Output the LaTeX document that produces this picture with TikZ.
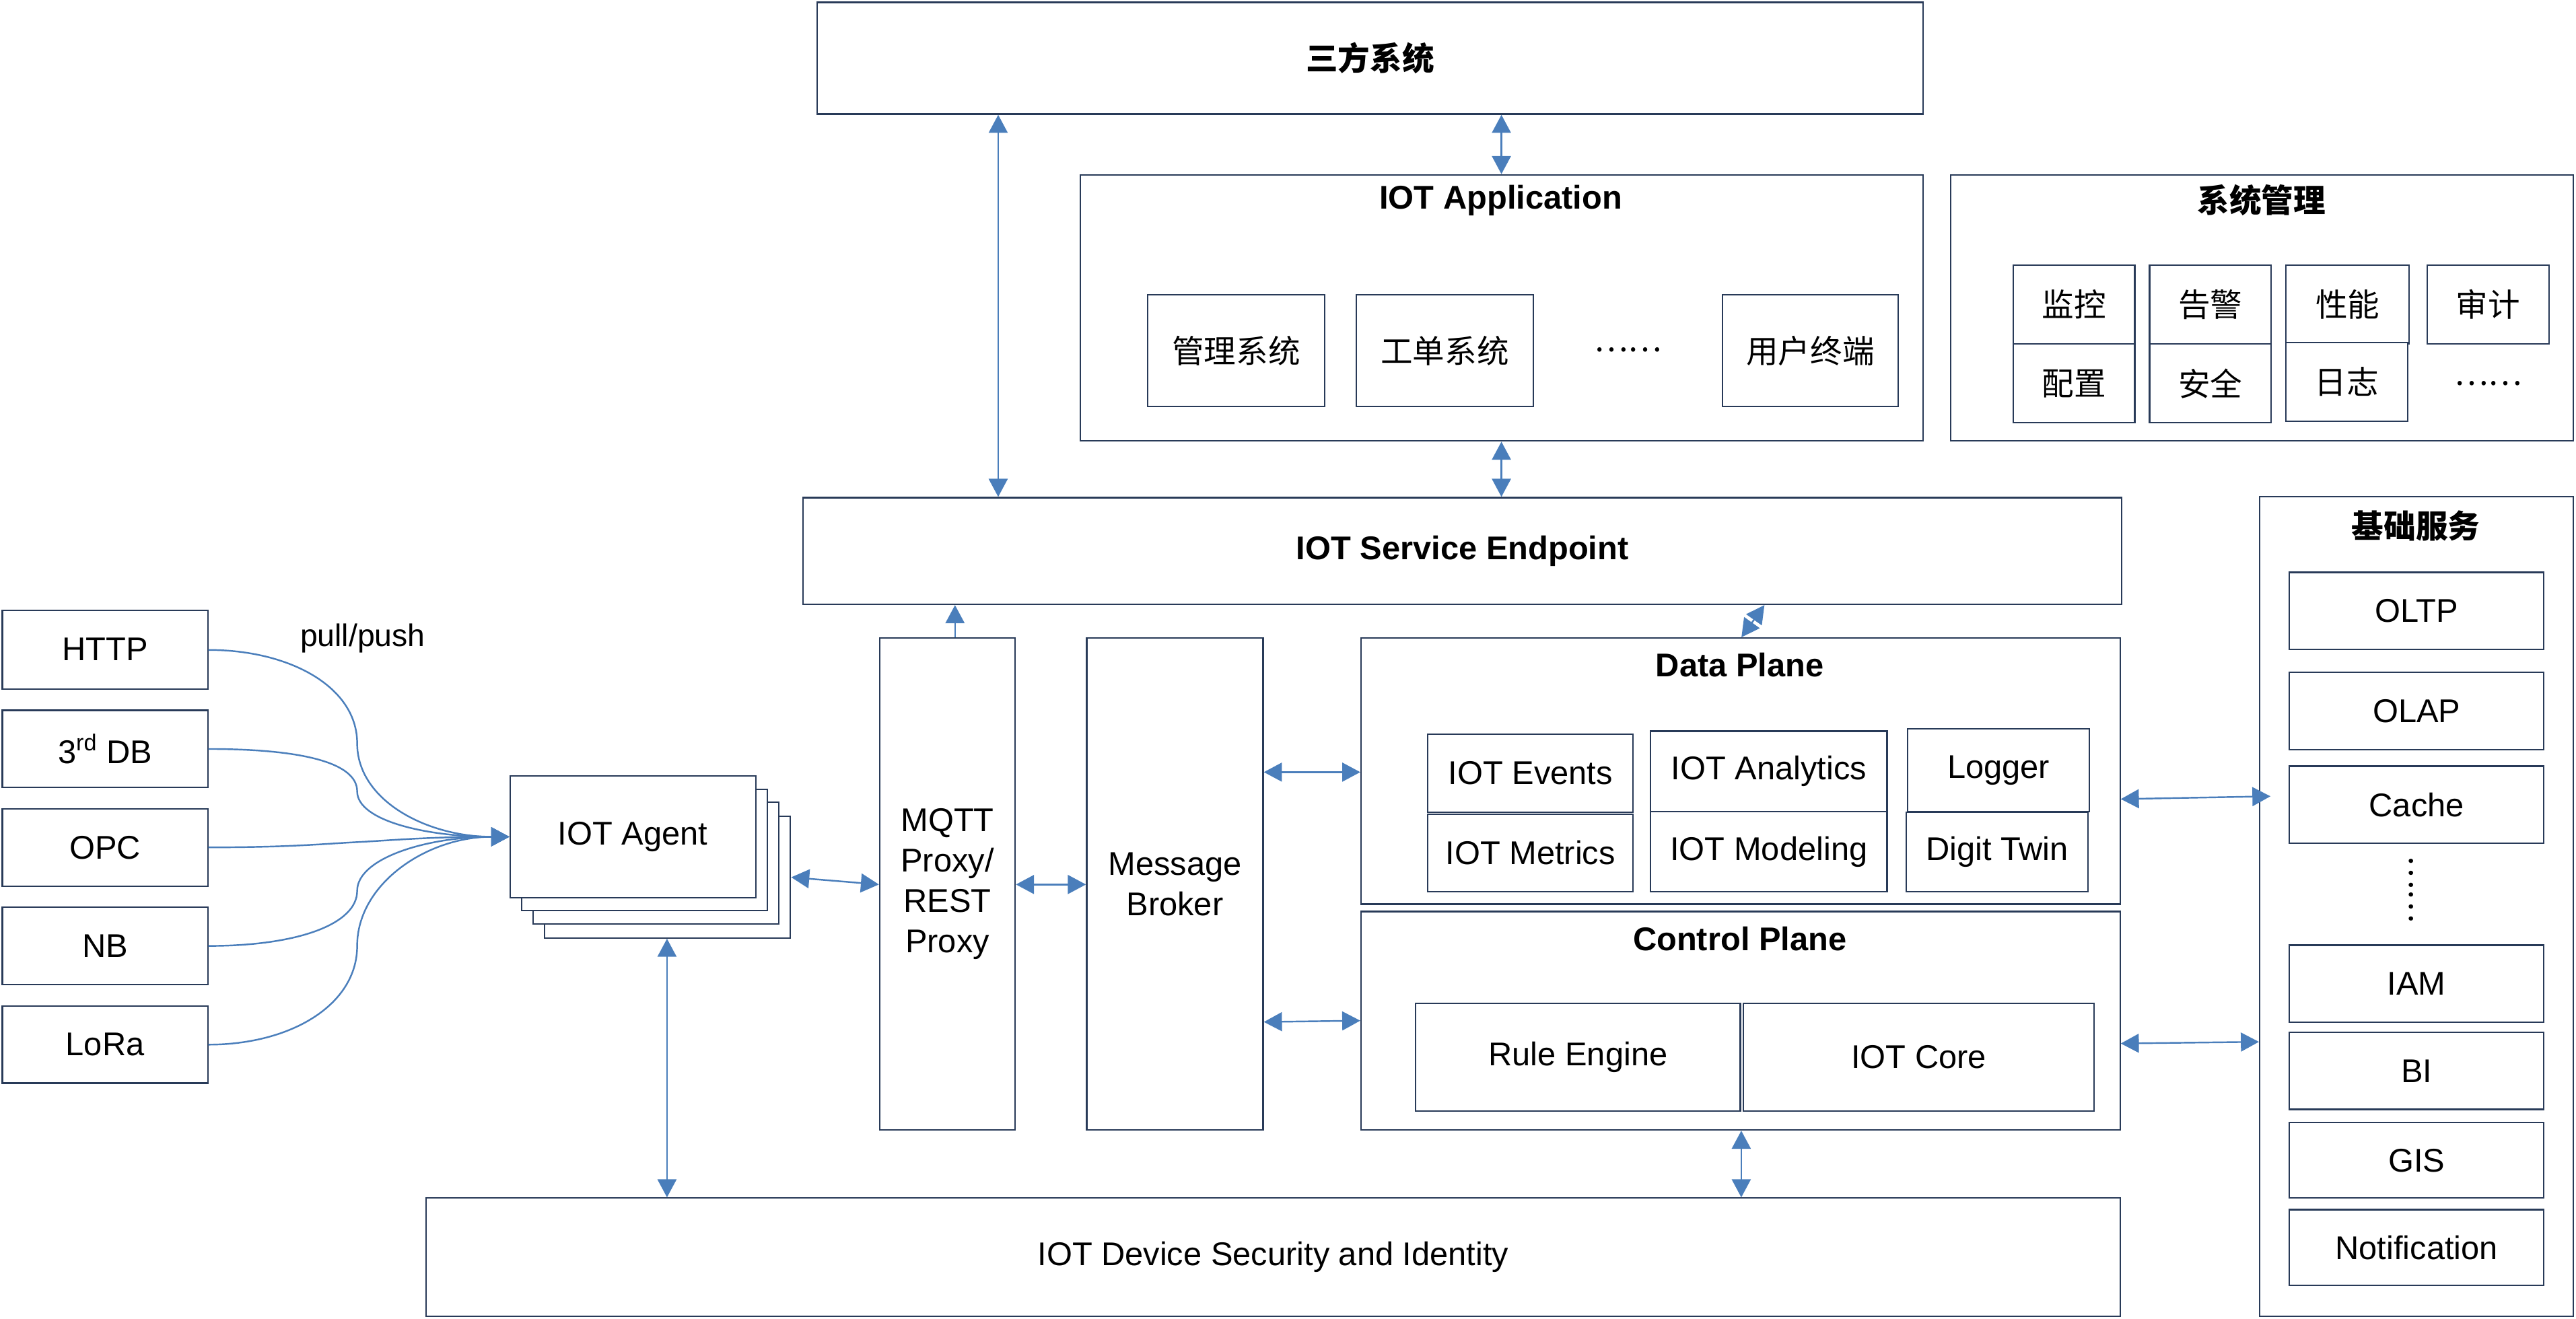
\documentclass[tikz,border=0pt]{standalone}
\usepackage{fontspec}
\setmainfont{Liberation Sans}
\newfontfamily\cjk[Scale=0.975]{Noto Sans CJK SC}
\usetikzlibrary{arrows.meta,calc}
\definecolor{edge}{RGB}{40,58,88}
\definecolor{arr}{RGB}{74,126,187}
\newcommand\bx[6][]{\node[box,anchor=north west,minimum width={(#4-#2)*1pt},minimum height={(#5-#3)*1pt},#1] (#6) at (#2,#3)}
\begin{document}
\begin{tikzpicture}[x=1pt,y=-1pt,
  box/.style={draw=edge,line width=0.9pt,fill=white,inner sep=0pt,align=center,font=\fontsize{20}{24.5}\selectfont},
  ttl/.style={inner sep=0pt,font=\fontsize{20}{24}\selectfont\bfseries},
  txt/.style={inner sep=0pt,font=\fontsize{20}{24}\selectfont},
  con/.style={draw=arr,line width=1pt,{Triangle[length=11pt,width=11.5pt]}-{Triangle[length=11pt,width=11.5pt]}},
  one/.style={draw=arr,line width=1pt,-{Triangle[length=11pt,width=11.5pt]}},
]
\useasboundingbox (0,0) rectangle (1568,803);

% top row
\bx{497}{1}{1170}{69}{top} {\cjk\bfseries 三方系统};
\bx{657}{106}{1170}{268}{app} {};
\node[ttl] (apptitle) at (913.5,122) {IOT Application};
\bx{698}{179}{806}{247}{mgmt} {\cjk 管理系统};
\bx{825}{179}{933}{247}{gd} {\cjk 工单系统};
\node[txt] (appdots) at (991,213) {\cjk ……};
\bx{1048}{179}{1155}{247}{user} {\cjk 用户终端};

\bx{1187}{106}{1566}{268}{sys} {};
\node[ttl] (systitle) at (1376.5,122) {\cjk 系统管理};
\bx{1225}{161}{1299}{209}{jk} {\cjk 监控};
\bx{1308}{161}{1382}{209}{gj} {\cjk 告警};
\bx{1391}{161}{1466}{209}{xn} {\cjk 性能};
\bx{1477}{161}{1551}{209}{sj} {\cjk 审计};
\bx{1225}{209}{1299}{257}{pz} {\cjk 配置};
\bx{1308}{209}{1382}{257}{aq} {\cjk 安全};
\bx{1391}{208}{1465}{256}{rz} {\cjk 日志};
\node[txt] (sysdots) at (1514.5,233.5) {\cjk ……};

% service endpoint
\bx{488.5}{302.5}{1291}{367.5}{sep} {\bfseries IOT Service Endpoint};

% base services
\bx{1375}{302}{1566}{801}{base} {};
\node[ttl] (basetitle) at (1470.5,320) {\cjk 基础服务};
\bx{1393}{348}{1548}{395}{oltp} {OLTP};
\bx{1393}{409}{1548}{456}{olap} {OLAP};
\bx{1393}{466}{1548}{513}{cache} {Cache};
\node[txt,rotate=-90] (vdots) at (1467.5,541.5) {\cjk ……};
\bx{1393}{575}{1548}{622}{iam} {IAM};
\bx{1393}{628}{1548}{675}{bi} {BI};
\bx{1393}{683}{1548}{729}{gis} {GIS};
\bx{1393}{736}{1548}{782}{notif} {Notification};

% left sources
\bx{1}{371}{126}{419}{http} {HTTP};
\bx{1}{432}{126}{479}{db} {3\textsuperscript{rd} DB};
\bx{1}{492}{126}{539}{opc} {OPC};
\bx{1}{552}{126}{599}{nb} {NB};
\bx{1}{612}{126}{659}{lora} {LoRa};
\node[txt,font=\fontsize{19}{24}\selectfont] (pp) at (220.8,388.8) {pull/push};

% agent stack
\bx{331}{496.5}{480.7}{570.6}{ag3} {};
\bx{324}{488}{473.6}{562}{ag2} {};
\bx{317}{480}{466.5}{554}{ag1} {};
\bx{310}{472}{459.5}{546}{agent} {IOT Agent};

% middle
\bx{535}{388}{617.5}{687.5}{mqtt} {MQTT\\Proxy/\\REST\\Proxy};
\bx{661}{388}{768.4}{687.5}{broker} {Message\\Broker};

\bx{828}{388}{1290}{550}{dp} {};
\node[ttl] (dptitle) at (1059,405) {Data Plane};
\bx{868.7}{446.6}{993.5}{494.1}{ev} {IOT Events};
\bx{868.7}{495.2}{993.5}{542.4}{me} {IOT Metrics};
\bx{1004.3}{444.7}{1148.2}{493.6}{an} {IOT Analytics};
\bx{1004.3}{493.6}{1148.2}{542.4}{mo} {IOT Modeling};
\bx{1160.6}{443.2}{1271.4}{493.6}{lg} {Logger};
\bx{1160}{494}{1270.5}{542.4}{dt} {Digit Twin};

\bx{828}{554.5}{1290}{687.5}{cp} {};
\node[ttl] (cptitle) at (1059,571.5) {Control Plane};
\bx{861.3}{610.4}{1058.9}{676}{re} {Rule Engine};
\bx{1060.8}{610.4}{1274.3}{676}{core} {IOT Core};

\bx{259}{729}{1290}{801}{sec} {IOT Device Security and Identity};

% connectors
\draw[con] (607.6,0 |- top.south) -- (607.6,0 |- sep.north);
\draw[con] (913.9,0 |- top.south) -- (913.9,0 |- app.north);
\draw[con] (913.9,0 |- app.south) -- (913.9,0 |- sep.north);
\draw[one] (581.3,0 |- mqtt.north) -- (581.3,0 |- sep.south);
\draw[con] (1074,0 |- sep.south) -- (1060,0 |- dp.north);
\draw[con] (ag3.east |- 0,534.1) -- (mqtt.west |- 0,538.5);
\draw[con] (mqtt.east |- 0,538.5) -- (broker.west |- 0,538.5);
\draw[con] (broker.east |- 0,470.1) -- (dp.west |- 0,470.1);
\draw[con] (broker.east |- 0,622.2) -- (cp.west |- 0,621.4);
\draw[con] (dp.east |- 0,486.5) -- ($(base.west |- 0,484.8)+(7,0)$);
\draw[con] (cp.east |- 0,635.3) -- (base.west |- 0,634.3);
\draw[con] (406,0 |- ag3.south) -- (406,0 |- sec.north);
\draw[con] (1059.9,0 |- cp.south) -- (1059.9,0 |- sec.north);

% curved source links
\coordinate (m1) at (217.4,452.5);
\coordinate (m2) at (217.4,481.8);
\coordinate (m3) at (217.4,512.7);
\coordinate (m4) at (217.4,542.4);
\coordinate (m5) at (217.4,575.9);
\draw[one] (http.east |- 0,395.7) .. controls +(50,0) and +(0,-34) .. (m1) .. controls +(0,35) and +(-50,0) .. (agent.west);
\draw[one] (db.east |- 0,456) .. controls +(55,0) and +(0,-18) .. (m2) .. controls +(0,18) and +(-50,0) .. (agent.west);
\draw[one] (opc.east |- 0,515.9) .. controls +(50,0) and +(-20,1) .. (m3) .. controls +(20,-1) and +(-50,0) .. (agent.west);
\draw[one] (nb.east |- 0,575.9) .. controls +(55,0) and +(0,20) .. (m4) .. controls +(0,-20) and +(-50,0) .. (agent.west);
\draw[one] (lora.east |- 0,636) .. controls +(50,0) and +(0,36) .. (m5) .. controls +(0,-38) and +(-50,0) .. (agent.west);
\end{tikzpicture}
\end{document}
